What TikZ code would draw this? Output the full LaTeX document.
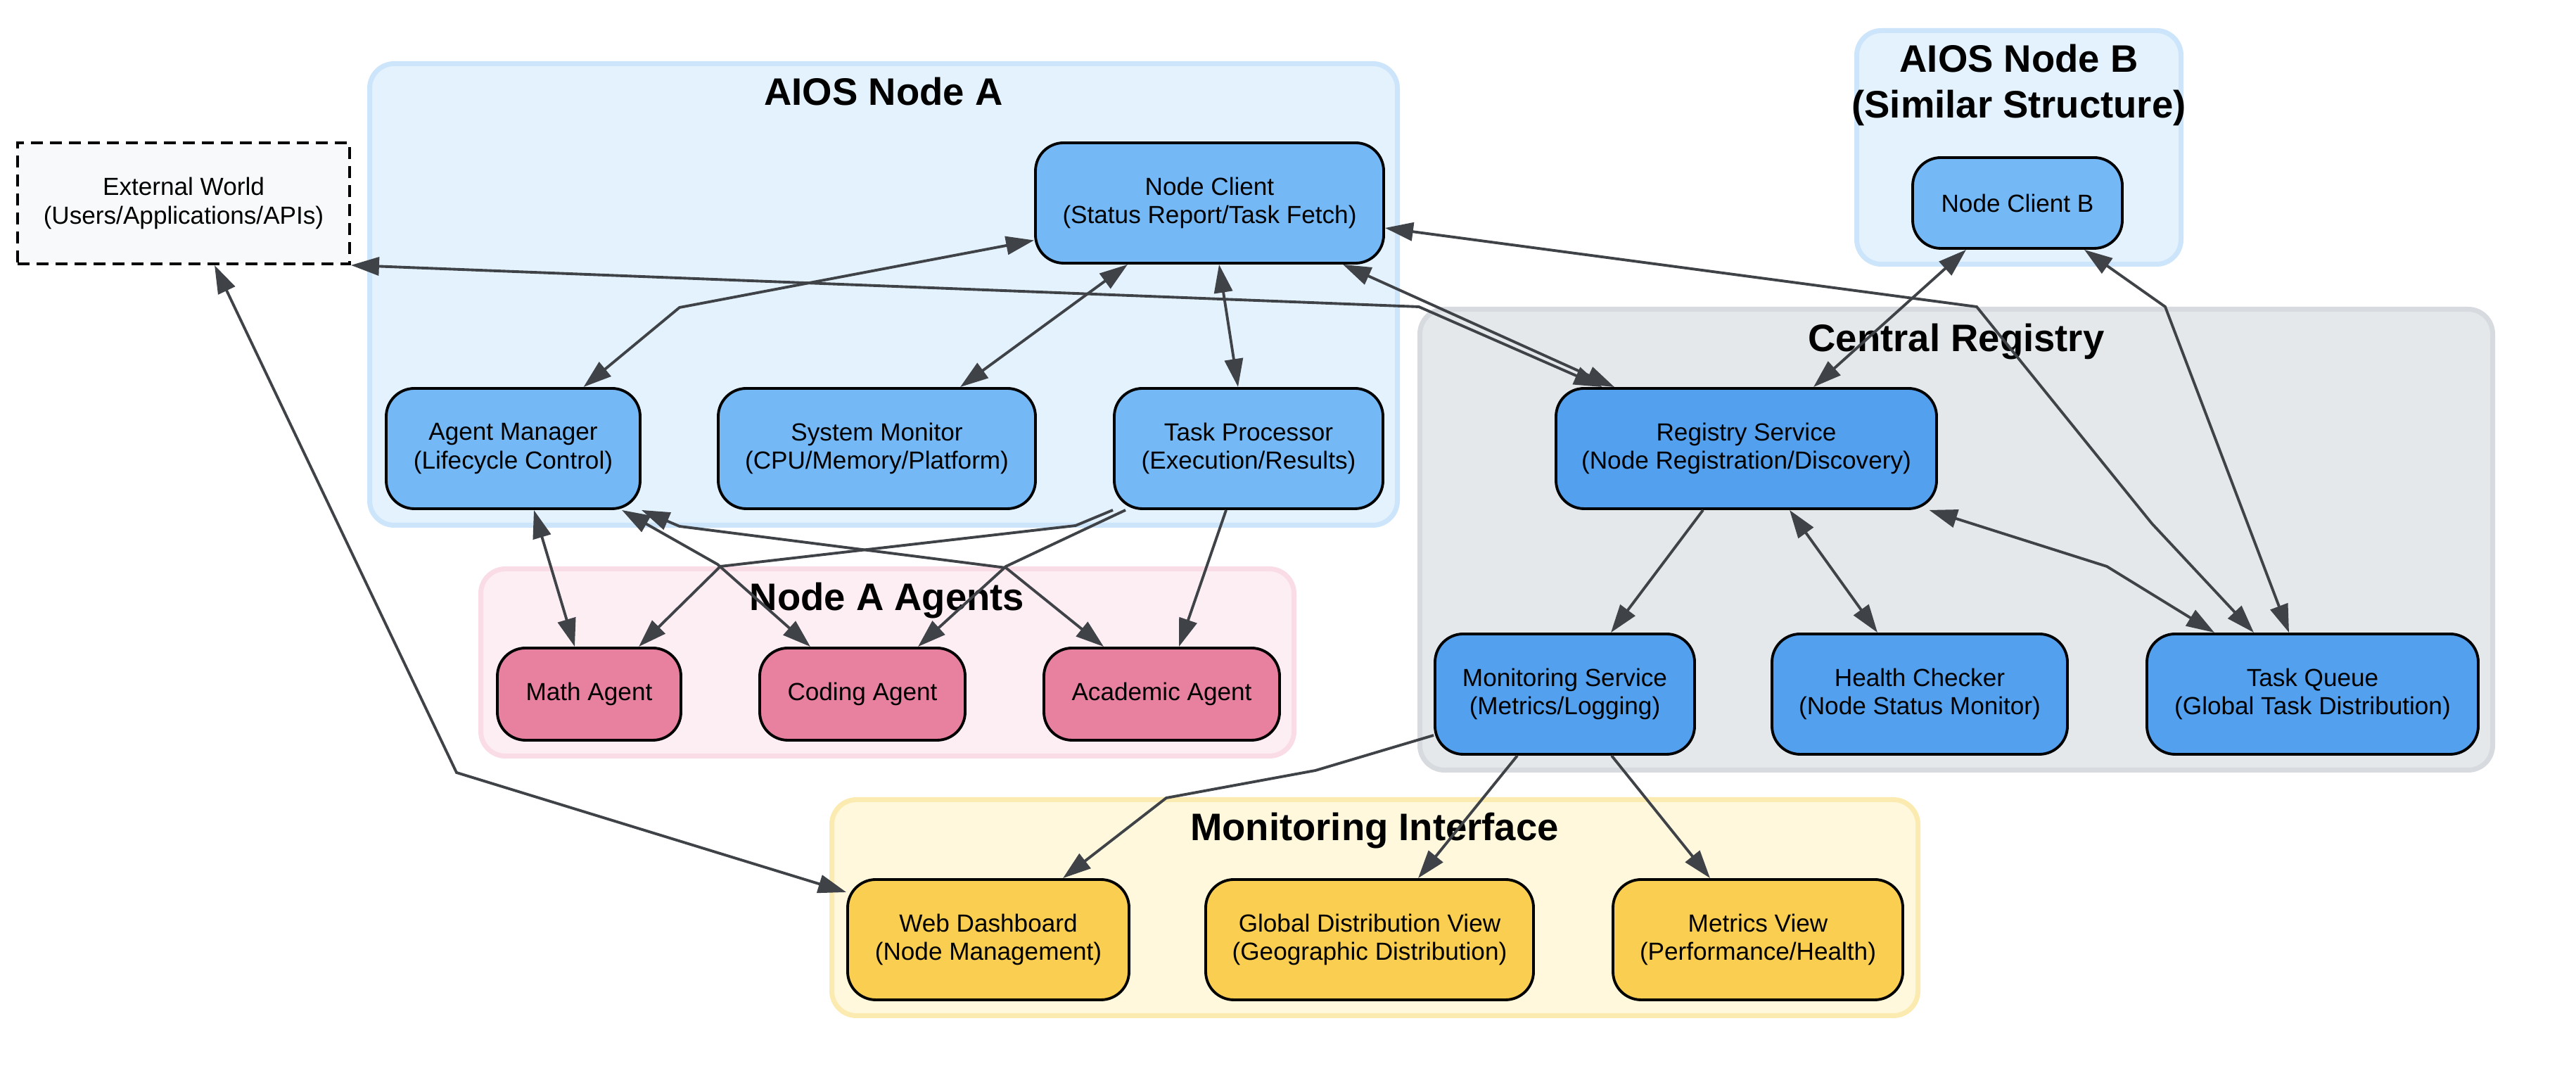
\documentclass[tikz,border=0pt]{standalone}
\usepackage{fontspec}
\setmainfont{Liberation Sans}
\usepackage{xcolor}
\usepackage{tikz}
\usetikzlibrary{arrows.meta,positioning}
\definecolor{nodeblue}{HTML}{74B8F6}
\definecolor{regblue}{HTML}{52A0EE}
\definecolor{agentpink}{HTML}{E8809F}
\definecolor{viewyellow}{HTML}{FACE50}
\definecolor{extgray}{HTML}{F8F9FA}
\definecolor{linegray}{HTML}{3F4347}
\definecolor{softblue}{HTML}{E3F2FD}
\definecolor{softblueline}{HTML}{CCE5FB}
\definecolor{softpink}{HTML}{FDEEF3}
\definecolor{softpinkline}{HTML}{FADCE6}
\definecolor{softgray}{HTML}{E4E8EB}
\definecolor{softgrayline}{HTML}{D7DADE}
\definecolor{softyellow}{HTML}{FFF8DC}
\definecolor{softyellowline}{HTML}{FCEBB0}
\tikzset{
  cluster/.style={rounded corners=3.5mm, line width=0.7mm, inner sep=0pt},
  clustertitle/.style={font=\fontsize{15.5}{18.5}\selectfont\bfseries, align=center, inner sep=0pt},
  nodebox/.style={draw=black, rounded corners=4mm, align=center, fill=nodeblue, line width=1.1pt, inner sep=2pt, minimum height=17.1mm, font=\fontsize{10}{11.6}\selectfont},
  registrybox/.style={nodebox, fill=regblue},
  agentbox/.style={nodebox, fill=agentpink, minimum height=13.1mm},
  viewbox/.style={nodebox, fill=viewyellow},
  external/.style={draw=black, dash pattern=on 1.7mm off 1mm, line width=1.1pt, fill=extgray, align=center, inner sep=2pt, minimum height=17.2mm, font=\fontsize{10}{11.6}\selectfont},
  arrow/.style={-{Triangle[length=4mm,width=2.6mm]}, line width=1.1pt, draw=linegray},
  biarrow/.style={{Triangle[length=4mm,width=2.6mm]}-{Triangle[length=4mm,width=2.6mm]}, line width=1.1pt, draw=linegray}
}
\begin{document}
\begin{tikzpicture}
  \useasboundingbox (0,0) rectangle (36.62,15.42);

  \node[cluster, draw=softblueline, fill=softblue, minimum width=146.1mm, minimum height=65.6mm] (nodeA) at (12.56,11.235) {};
  \node[clustertitle, anchor=base] (nodeAtitle) at (12.56,13.92) {AIOS Node A};
  \node[cluster, draw=softblueline, fill=softblue, minimum width=46.1mm, minimum height=33.2mm] (nodeB) at (28.70,13.325) {};
  \node[clustertitle] (nodeBtitle) at (28.70,14.21) {AIOS Node B\\(Similar Structure)};
  \node[cluster, draw=softgrayline, fill=softgray, minimum width=152.5mm, minimum height=65.5mm] (central) at (27.81,7.75) {};
  \node[clustertitle, anchor=base] (centraltitle) at (27.81,10.42) {Central Registry};
  \node[cluster, draw=softpinkline, fill=softpink, minimum width=115.6mm, minimum height=26.6mm] (agents) at (12.615,6.005) {};
  \node[clustertitle, anchor=base] (agentstitle) at (12.61,6.74) {Node A Agents};
  \node[cluster, draw=softyellowline, fill=softyellow, minimum width=154.4mm, minimum height=30.7mm] (moniface) at (19.545,2.52) {};
  \node[clustertitle, anchor=base] (monifacetitle) at (19.54,3.47) {Monitoring Interface};

  \node[external, minimum width=47.2mm] (ext) at (2.61,12.53) {External World\\(Users/Applications/APIs)};

  \node[nodebox, minimum width=49.5mm] (client) at (17.195,12.535) {Node Client\\(Status Report/Task Fetch)};
  \node[nodebox, minimum width=36.1mm] (mgr) at (7.295,9.045) {Agent Manager\\(Lifecycle Control)};
  \node[nodebox, minimum width=45.1mm] (sysmon) at (12.465,9.045) {System Monitor\\(CPU/Memory/Platform)};
  \node[nodebox, minimum width=38.2mm] (taskproc) at (17.75,9.045) {Task Processor\\(Execution/Results)};
  \node[nodebox, minimum width=29.8mm, minimum height=12.9mm] (clientb) at (28.68,12.535) {Node Client B};

  \node[registrybox, minimum width=54.1mm] (registry) at (24.825,9.045) {Registry Service\\(Node Registration/Discovery)};
  \node[registrybox, minimum width=36.9mm] (monsvc) at (22.245,5.555) {Monitoring Service\\(Metrics/Logging)};
  \node[registrybox, minimum width=42mm] (health) at (27.29,5.555) {Health Checker\\(Node Status Monitor)};
  \node[registrybox, minimum width=47.1mm] (queue) at (32.875,5.555) {Task Queue\\(Global Task Distribution)};

  \node[agentbox, minimum width=26.1mm] (math) at (8.375,5.555) {Math Agent};
  \node[agentbox, minimum width=29.2mm] (coding) at (12.26,5.555) {Coding Agent};
  \node[agentbox, minimum width=33.5mm] (academic) at (16.515,5.555) {Academic Agent};

  \node[viewbox, minimum width=40mm] (webdash) at (14.05,2.065) {Web Dashboard\\(Node Management)};
  \node[viewbox, minimum width=46.6mm] (geoview) at (19.47,2.065) {Global Distribution View\\(Geographic Distribution)};
  \node[viewbox, minimum width=41.2mm] (metricsview) at (24.99,2.065) {Metrics View\\(Performance/Health)};

  \draw[biarrow] ([yshift=-5.3mm]client.west) -- (9.66,11.05) -- ([xshift=10mm]mgr.north);
  \draw[biarrow] ([xshift=-11.65mm]client.south) -- ([xshift=11.85mm]sysmon.north);
  \draw[biarrow] ([xshift=1.35mm]client.south) -- ([xshift=-1.5mm]taskproc.north);
  \draw[biarrow] ([xshift=18.95mm]client.south) -- ([xshift=-18.75mm]registry.north);
  \draw[biarrow] (ext.south east) -- (20.17,11.06) -- ([xshift=-20.5mm]registry.north);
  \draw[biarrow] ([yshift=-3.55mm]client.east) -- (28.10,11.06) -- (30.59,7.98) -- ([xshift=-8.35mm]queue.north);
  \draw[biarrow] ([xshift=-7.3mm]clientb.south) -- ([xshift=9.55mm]registry.north);
  \draw[biarrow] ([xshift=9.5mm]clientb.south) -- (30.78,11.06) -- ([xshift=-3.35mm]queue.north);
  \draw[biarrow] ([xshift=26mm]registry.south) -- (29.95,7.37) -- ([xshift=-13.95mm]queue.north);
  \draw[biarrow] ([xshift=6.15mm]registry.south) -- ([xshift=-6mm]health.north);
  \draw[arrow] ([xshift=-6.15mm]registry.south) -- ([xshift=6.55mm]monsvc.north);
  \draw[arrow] ([xshift=-6.75mm]monsvc.south) -- ([xshift=6.9mm]geoview.north);
  \draw[arrow] ([xshift=6.65mm]monsvc.south) -- ([xshift=-6.8mm]metricsview.north);
  \draw[arrow] ([yshift=-5.85mm]monsvc.west) -- (18.70,4.47) -- (16.58,4.08) -- ([xshift=10.6mm]webdash.north);
  \draw[biarrow] ([xshift=4.4mm]ext.south) -- (6.49,4.44) -- ([yshift=6.75mm]webdash.west);
  \draw[biarrow] ([xshift=2.95mm]mgr.south) -- ([xshift=-2.05mm]math.north);
  \draw[biarrow] ([xshift=15.45mm]mgr.south) -- (10.20,7.40) -- ([xshift=-7.4mm]coding.north);
  \draw[biarrow] (mgr.south east) -- (9.66,7.94) -- (14.30,7.35) -- ([xshift=-8.25mm]academic.north);
  \draw[arrow] (taskproc.south west) -- (15.29,7.95) -- (10.24,7.37) -- ([xshift=7.05mm]math.north);
  \draw[arrow] ([xshift=-17.5mm]taskproc.south) -- (14.30,7.37) -- ([xshift=7.9mm]coding.north);
  \draw[arrow] ([xshift=-3.2mm]taskproc.south) -- ([xshift=2.45mm]academic.north);
\end{tikzpicture}
\end{document}
